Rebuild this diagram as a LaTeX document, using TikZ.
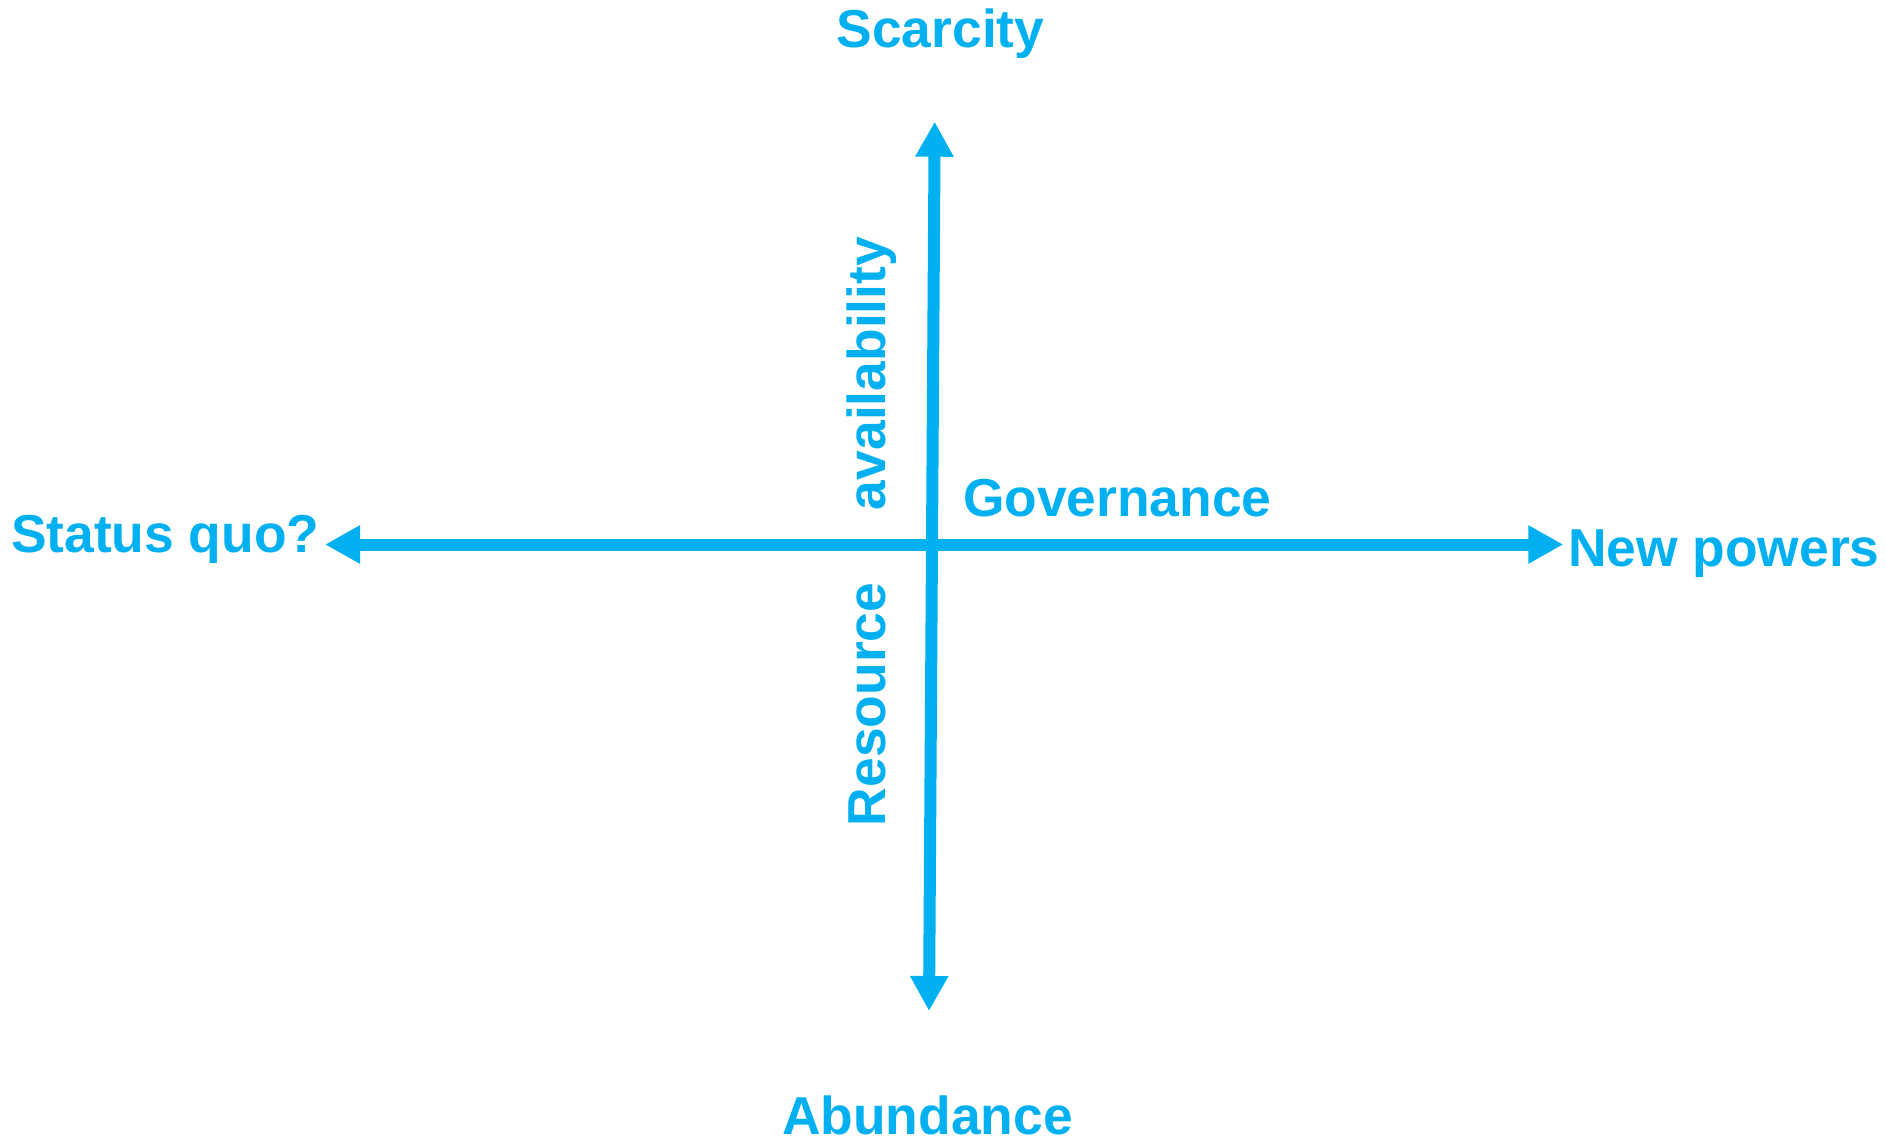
\documentclass[tikz,border=0pt]{standalone}
\usepackage{fontspec}
\setmainfont{Liberation Sans}
\usetikzlibrary{arrows.meta}
\definecolor{axisblue}{HTML}{00B0F0}
\begin{document}
\begin{tikzpicture}[x=0.5pt,y=-0.5pt,
  lbl/.style={inner sep=0pt,outer sep=0pt,text=axisblue,font=\fontsize{26.7}{30}\selectfont\bfseries},
  axisline/.style={draw=axisblue,line width=6pt,{Triangle[length=17.5pt,width=18pt]}-{Triangle[length=17.5pt,width=18pt]}}]
\useasboundingbox (0,0) rectangle (1886,1139);
\coordinate (vtop) at (934.7,121.7);
\coordinate (vbot) at (929,1011);
\coordinate (hleft) at (325,544.5);
\coordinate (hright) at (1563.3,544.5);
\draw[axisline] (vtop) -- (vbot);
\draw[axisline] (hleft) -- (hright);
\node[lbl,anchor=base] (scarcity) at (940.5,48) {Scarcity};
\node[lbl,anchor=base] (abundance) at (927.5,1134) {Abundance};
\node[lbl,anchor=base west] (statusquo) at (11,552.7) {Status quo?};
\node[lbl,anchor=base west] (newpowers) at (1568,566.7) {New powers};
\node[lbl,anchor=base west] (governance) at (963,516) {Governance};
\node[lbl,anchor=base west,rotate=90] (availability) at (885,510) {availability};
\node[lbl,anchor=base west,rotate=90] (resource) at (885,826) {Resource};
\end{tikzpicture}
\end{document}
